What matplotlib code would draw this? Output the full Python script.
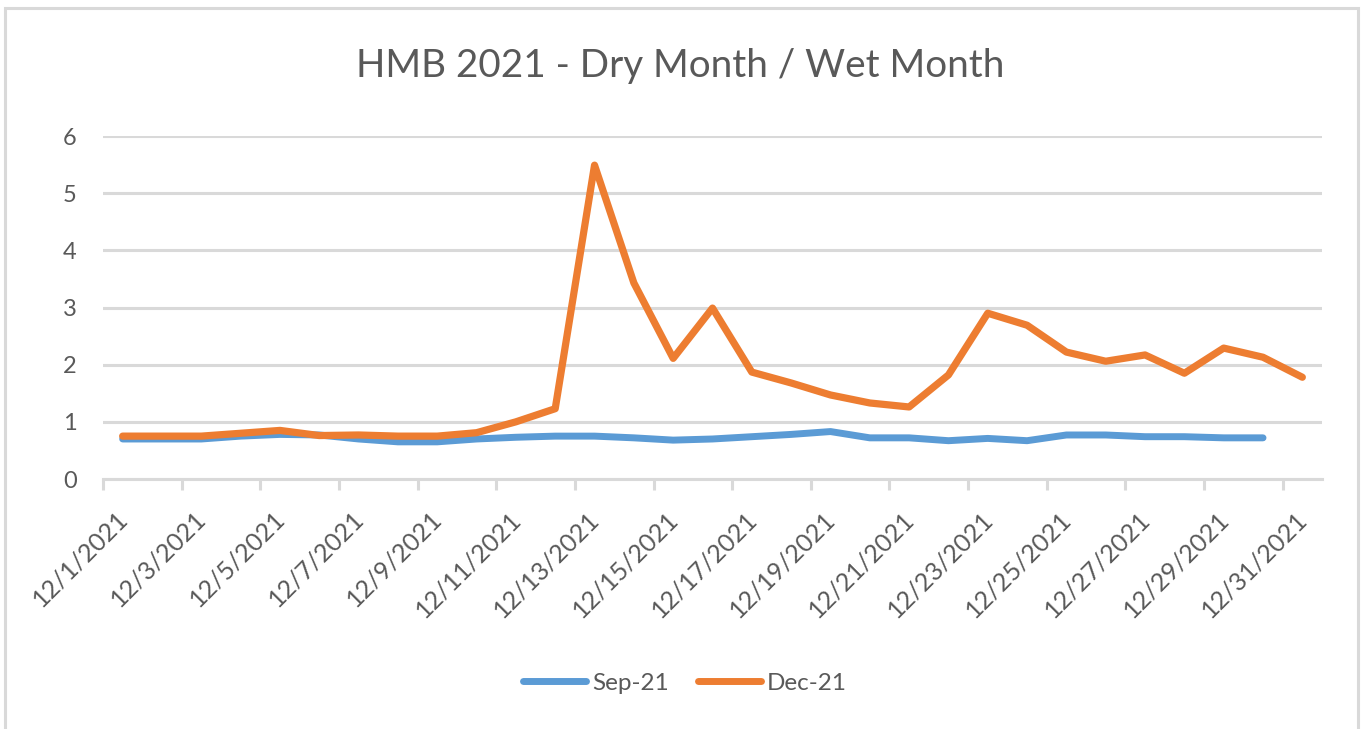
import matplotlib
matplotlib.use("Agg")
import matplotlib.pyplot as plt
from matplotlib.patches import Rectangle
import matplotlib.transforms as mtransforms

dates = [f"12/{d}/2021" for d in range(1, 32)]
sep21 = [0.70, 0.70, 0.70, 0.75, 0.78, 0.77, 0.70, 0.65, 0.65, 0.70,
         0.73, 0.75, 0.75, 0.72, 0.68, 0.70, 0.74, 0.78, 0.83, 0.72,
         0.72, 0.67, 0.71, 0.67, 0.77, 0.77, 0.74, 0.74, 0.72, 0.72]
dec21 = [0.75, 0.75, 0.75, 0.80, 0.85, 0.76, 0.77, 0.75, 0.75, 0.81,
         1.00, 1.23, 5.49, 3.43, 2.11, 2.99, 1.87, 1.68, 1.47, 1.33,
         1.26, 1.82, 2.90, 2.69, 2.22, 2.06, 2.17, 1.85, 2.29, 2.13, 1.78]
yticks = [0, 1, 2, 3, 4, 5, 6]
title = "HMB 2021 - Dry Month / Wet Month"

plt.rcParams['font.family'] = ['Lato', 'DejaVu Sans']
txt = '#595959'
grid = '#D9D9D9'

fig = plt.figure(figsize=(13.61, 7.29), dpi=100)
fig.patches.append(Rectangle((5/1361, -0.01), (1358-5)/1361, 1 - 8/729 + 0.01,
                             transform=fig.transFigure, fill=False,
                             edgecolor=grid, linewidth=2.2))

ax = fig.add_axes([103/1361, 1-479/729, (1322-103)/1361, (479-136)/729])
x = list(range(len(dates)))
ax.plot(x[:len(sep21)], sep21, color='#5B9BD5', lw=5, solid_capstyle='round',
        solid_joinstyle='round', label='Sep-21', zorder=3)
ax.plot(x, dec21, color='#ED7D31', lw=5.2, solid_capstyle='round',
        solid_joinstyle='round', label='Dec-21', zorder=4)

ax.set_xlim(-0.5, len(dates) - 0.5)
ax.set_ylim(0, 6)
ax.set_yticks(yticks)
ax.set_yticklabels([str(v) for v in yticks], fontsize=17, color=txt)
ax.tick_params(axis='y', length=0, pad=19)
ax.grid(axis='y', color=grid, lw=2.2, zorder=0)
ax.set_axisbelow(True)
for s in ['top', 'right', 'left']:
    ax.spines[s].set_visible(False)
ax.spines['bottom'].set_color(grid)
ax.spines['bottom'].set_linewidth(2.2)

major = list(range(0, len(dates), 2))
ax.set_xticks(major)
ax.set_xticklabels([dates[i] for i in major], rotation=45, ha='right',
                   va='top', rotation_mode='anchor', fontsize=18, color=txt)
ax.tick_params(axis='x', which='major', length=0, pad=20)
off = mtransforms.ScaledTranslation(-7/100, 0, fig.dpi_scale_trans)
for lab in ax.get_xticklabels():
    lab.set_transform(lab.get_transform() + off)
ax.set_xticks([i - 0.5 for i in range(0, len(dates), 2)], minor=True)
ax.tick_params(axis='x', which='minor', length=8, width=2.2, color=grid)

fig.text(680/1361, 1-66/729, title, ha='center', va='center', fontsize=27.8, color=txt)

leg = fig.legend(loc='center', bbox_to_anchor=(685/1361, 1-683/729), ncol=2,
                 frameon=False, fontsize=17.5, handlelength=2.6, handletextpad=0.25,
                 columnspacing=1.2, labelcolor=txt)
for h in leg.get_lines():
    h.set_linewidth(5)

fig.savefig('out.png', dpi=100)
